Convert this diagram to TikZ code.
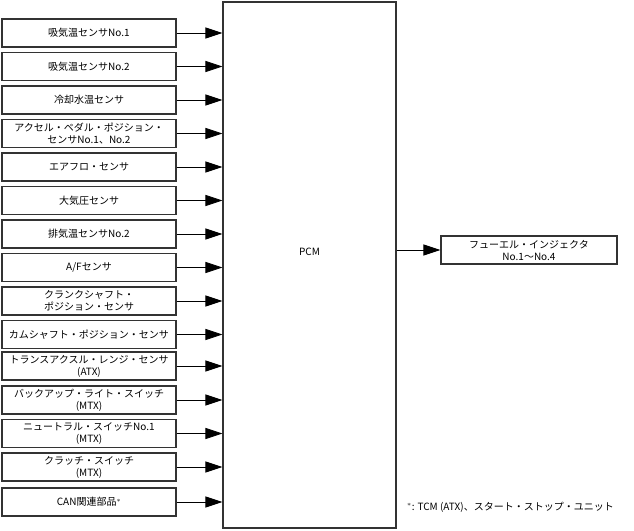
\documentclass[tikz,border=0pt]{standalone}
\usepackage{fontspec}
\setmainfont{Noto Sans CJK JP}
\usepackage{xcolor}
\definecolor{BoxEdge}{rgb}{0.2, 0.2, 0.2}
\usepackage{tikz}
\usetikzlibrary{calc, positioning, arrows.meta}

\begin{document}
\begin{tikzpicture}[
        x=1pt, y=-1pt,
        font=\fontsize{10}{12}\selectfont,
        % Styles
        sensor/.style={rectangle, draw=BoxEdge, line width=1.1pt, minimum width=174pt, minimum height=28pt, inner sep=0pt, align=center},
        ecu/.style={rectangle, draw=BoxEdge, line width=1.1pt, minimum width=173pt, minimum height=526pt, inner sep=0pt},
        sig_arrow/.style={-{Triangle[length=17pt, width=11pt]}, black, line width=0.8pt}
    ]
    \useasboundingbox (0,0) rectangle (634,530);

    % 1. THE CONTROL MODULE
    \node[ecu] (pcm) at (309.5, 265) {};
    \node (pcmtxt) at (309.5, 252) {PCM};

    % 2. INPUTS (left column)
    \node[sensor] (iat1) at (89, 33)    {吸気温センサNo.1};
    \node[sensor] (iat2) at (89, 66.5)  {吸気温センサNo.2};
    \node[sensor] (ect)  at (89, 100)   {冷却水温センサ};
    \node[sensor] (app)  at (89, 133.5) {アクセル・ペダル・ポジション・\\センサNo.1、No.2};
    \node[sensor] (maf)  at (89, 167)   {エアフロ・センサ};
    \node[sensor] (baro) at (89, 200.5) {大気圧センサ};
    \node[sensor] (egt2) at (89, 234)   {排気温センサNo.2};
    \node[sensor] (afs)  at (89, 267.5) {A/Fセンサ};
    \node[sensor] (ckp)  at (89, 301)   {クランクシャフト・\\ポジション・センサ};
    \node[sensor] (cmp)  at (89, 334.5) {カムシャフト・ポジション・センサ};
    \node[sensor] (trs)  at (89, 366)   {トランスアクスル・レンジ・センサ\\(ATX)};
    \node[sensor] (bul)  at (89, 400)   {バックアップ・ライト・スイッチ\\(MTX)};
    \node[sensor] (nsw)  at (89, 433.5) {ニュートラル・スイッチNo.1\\(MTX)};
    \node[sensor] (clsw) at (89, 467)   {クラッチ・スイッチ\\(MTX)};
    \node[sensor] (can)  at (89, 502)   {CAN関連部品$^{*}$};

    \draw[sig_arrow] (iat1.east) -- (iat1.east -| pcm.west);
    \draw[sig_arrow] (iat2.east) -- (iat2.east -| pcm.west);
    \draw[sig_arrow] (ect.east)  -- (ect.east -| pcm.west);
    \draw[sig_arrow] (app.east)  -- (app.east -| pcm.west);
    \draw[sig_arrow] (maf.east)  -- (maf.east -| pcm.west);
    \draw[sig_arrow] (baro.east) -- (baro.east -| pcm.west);
    \draw[sig_arrow] (egt2.east) -- (egt2.east -| pcm.west);
    \draw[sig_arrow] (afs.east)  -- (afs.east -| pcm.west);
    \draw[sig_arrow] (ckp.east)  -- (ckp.east -| pcm.west);
    \draw[sig_arrow] (cmp.east)  -- (cmp.east -| pcm.west);
    \draw[sig_arrow] (trs.east)  -- (trs.east -| pcm.west);
    \draw[sig_arrow] (bul.east)  -- (bul.east -| pcm.west);
    \draw[sig_arrow] (nsw.east)  -- (nsw.east -| pcm.west);
    \draw[sig_arrow] (clsw.east) -- (clsw.east -| pcm.west);
    \draw[sig_arrow] (can.east)  -- (can.east -| pcm.west);

    % 3. OUTPUT
    \node[sensor, minimum width=176pt] (inj) at (529, 250) {フューエル・インジェクタ\\No.1〜No.4};
    \draw[sig_arrow] (pcm.east |- inj.west) -- (inj.west);

    % 4. FOOTNOTE
    \node[anchor=west, inner sep=0pt] (note) at (407, 507) {$^{*}$: TCM (ATX)、スタート・ストップ・ユニット};
\end{tikzpicture}
\end{document}
